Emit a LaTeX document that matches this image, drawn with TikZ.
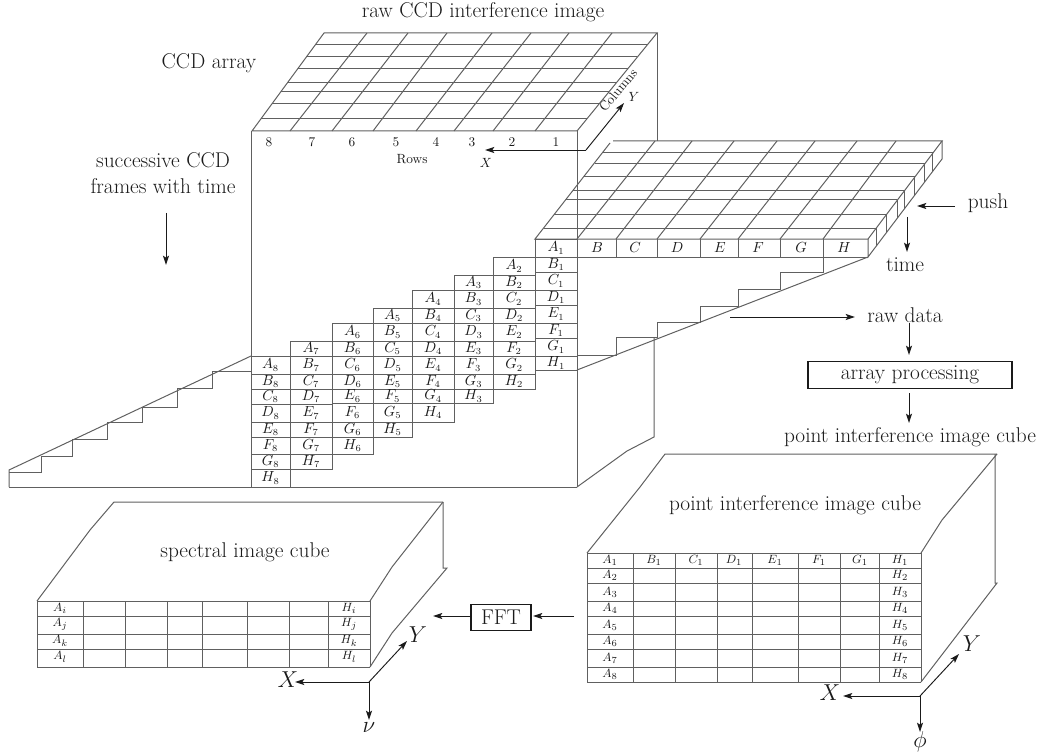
\documentclass[tikz,border=0pt]{standalone}
\usetikzlibrary{arrows.meta}
\definecolor{ink}{HTML}{606060}
\definecolor{axis}{HTML}{1A1A1A}
\tikzset{
  base/.style={x=0.75pt,y=-0.75pt},
  ln/.style={draw=ink,line width=0.75pt,line join=miter},
  arr/.style={draw=axis,line width=0.7pt,-{Stealth[length=7pt,width=4.5pt,inset=1.5pt]}},
  big/.style={inner sep=0pt,text=axis,font=\fontsize{16}{19}\selectfont,align=center},
  small/.style={inner sep=0pt,text=axis,font=\fontsize{10}{12}\selectfont},
  cellA/.style={inner sep=0pt,text=axis,font=\fontsize{10.5}{12}\selectfont},
  cellB/.style={inner sep=0pt,text=axis,font=\fontsize{9.5}{11}\selectfont},
  axl/.style={inner sep=0pt,text=axis,font=\fontsize{17}{19}\selectfont},
  boxn/.style={draw=axis,line width=0.9pt,inner sep=0pt,text=axis,font=\fontsize{16}{19}\selectfont},
}
% one stepped column of the interferogram: xa, xb, subscript, array of nine y values
\newcommand{\stairColumn}[4]{%
  \foreach \L [count=\n from 0] in {A,B,C,D,E,F,G,H}{%
    \pgfmathsetmacro\ya{#4[\n]}%
    \pgfmathsetmacro\yb{#4[\n+1]}%
    \pgfmathsetmacro\ym{(\ya+\yb)/2}%
    \pgfmathsetmacro\xm{(#1+#2)/2}%
    \draw[ln] (#1,\ya) rectangle (#2,\yb);
    \node[cellA] (s#3\L) at (\xm,\ym) {$\L_{#3}$};
  }%
}
\begin{document}
\begin{tikzpicture}[base]
\useasboundingbox (0,0) rectangle (1055,752);

% ---------- top CCD grid
\draw[ln] (252,131) -- (324,33) -- (657,33) -- (577,131) -- cycle;
\foreach \f/\b in {290/367,332/408,373/447,416/492,454/531,493/569,535/612}
  \draw[ln] (\f,131) -- (\b,33);
\foreach \y in {45,57,69,83,92,104,119}{
  \pgfmathsetmacro\xl{252+(131-\y)*72/98}
  \pgfmathsetmacro\xr{577+(131-\y)*80/98}
  \draw[ln] (\xl,\y) -- (\xr,\y);
}
% box of the main panel
\draw[ln] (251,131) -- (251,487);
\draw[ln] (577,131) -- (577,487);
\draw[ln] (657,33) -- (657,141);
\draw[ln] (9,487) -- (577,487);
\draw[ln] (577,487) -- (627,451) -- (654,437) -- (654,338);

% ---------- time grid
\draw[ln] (610,143) -- (535,239) -- (868,239) -- (942,141) -- (613,141);
\foreach \f/\b in {577/655,616/692,657/734,700/777,738/815,780/857,823/896}
  \draw[ln] (\f,239) -- (\b,141);
\foreach \y in {153,164,177,191,200,215,228}{
  \pgfmathsetmacro\xl{535+(239-\y)*78/98}
  \pgfmathsetmacro\xr{868+(239-\y)*74/98}
  \draw[ln] (\xl,\y) -- (\xr,\y);
}
% thickness on the right of the time grid
\draw[ln] (868,239) -- (868,257) -- (942,159) -- (942,141);
\foreach \y in {228,215,200,191,177,164,153}{
  \pgfmathsetmacro\xr{868+(239-\y)*74/98}
  \pgfmathsetmacro\yy{\y+18}
  \draw[ln] (\xr,\y) -- (\xr,\yy);
}
% front row B..H
\draw[ln] (535,257) -- (868,257);
\foreach \x in {616,657,700,738,780,823}
  \draw[ln] (\x,239) -- (\x,257);
\foreach \L/\x in {B/597,C/635,D/677,E/720,F/758,G/801,H/844}
  \node[cellA] (r\L) at (\x,248) {$\L$};

% right staircase
\draw[ln] (868,257) -- (577,370);
\draw[ln] (823,257) -- (823,272) -- (780,272) -- (780,289) -- (738,289) -- (738,306) -- (700,306) -- (700,322) -- (657,322) -- (657,337) -- (616,337) -- (616,355) -- (577,355);
% left staircase
\draw[ln] (251,356) -- (9,470) -- (9,487);
\draw[ln] (9,472) -- (41,472) -- (41,456) -- (72,456) -- (72,439) -- (107,439) -- (107,422) -- (142,422) -- (142,407) -- (177,407) -- (177,388) -- (212,388) -- (212,371) -- (251,371);

% ---------- stepped table
\stairColumn{535}{577}{1}{{239,257,272,290,305,323,338,356,370}}
\stairColumn{493}{535}{2}{{257,275,290,308,323,341,356,374,389}}
\stairColumn{454}{493}{3}{{275,290,308,323,341,356,374,389,403}}
\stairColumn{412}{454}{4}{{290,308,323,341,356,374,389,403,422}}
\stairColumn{373}{412}{5}{{308,323,341,356,374,389,403,422,437}}
\stairColumn{332}{373}{6}{{323,341,356,374,389,403,422,437,454}}
\stairColumn{290}{332}{7}{{341,356,374,389,404,422,437,454,469}}
\stairColumn{251}{290}{8}{{356,374,389,404,422,437,454,469,487}}

% ---------- top labels
\node[big] (title) at (483,12) {raw CCD interference image};
\node[big] (ccd) at (209,63) {CCD array};
\node[big] (succ) at (163,173) {successive CCD\\frames with time};
\coordinate (sa) at (166,213); \coordinate (sb) at (166,265);
\draw[arr] (sa) -- (sb);
\foreach \d/\x in {8/269,7/312,6/352,5/396,4/436,3/472,2/512,1/556}
  \node[small] (row\d) at (\x,142) {\d};
\node[small] (rows) at (412,159) {Rows};
\node[small,rotate=50] (cols) at (618,90) {Columns};
\coordinate (o1) at (586,150);
\coordinate (o1x) at (485,150);
\coordinate (o1y) at (624,103);
\draw[arr] (o1) -- (o1x);
\draw[arr] (o1) -- (o1y);
\node[small] (lx1) at (486,163) {$X$};
\node[small] (ly1) at (634,97) {$Y$};

% ---------- right side flow
\node[big] (push) at (988,203) {push};
\coordinate (pa) at (955,206);
\coordinate (pb) at (917,206);
\draw[arr] (pa) -- (pb);
\coordinate (ta) at (907,217);
\node[big] (time) at (905,265) {time};
\draw[arr] (ta) -- (907,252);
\node[big] (raw) at (905,315) {raw data};
\coordinate (ra) at (730,317);
\coordinate (rb) at (855,317);
\draw[arr] (ra) -- (rb);
\node[boxn,minimum width=153pt,minimum height=20.5pt] (proc) at (910,375) {array processing};
\node[big] (pcube) at (910,437) {point interference image cube};
\coordinate (pc) at (909,323);
\coordinate (pd) at (909,355);
\coordinate (pe) at (909,393);
\coordinate (pf) at (909,423);
\draw[arr] (pc) -- (pd);
\draw[arr] (pe) -- (pf);

% ---------- lower right cube
\draw[ln] (587,553) -- (640,487) -- (665,454) -- (997,454);
\draw[ln] (921,553) -- (942,520) -- (997,454);
\draw[ln] (995,454) -- (995,583) -- (997,583) -- (921,682);
\foreach \y in {553,568,583,601,616,634,649,667,682}
  \draw[ln] (587,\y) -- (921,\y);
\foreach \x in {587,633,675,717,752,798,840,879,921}
  \draw[ln] (\x,553) -- (\x,682);
\foreach \L/\x in {A/610,B/654,C/696,D/734,E/775,F/819,G/860,H/900}
  \node[cellB] (p\L) at (\x,560) {$\L_{1}$};
\foreach \i/\y in {2/575,3/592,4/608,5/625,6/641,7/658,8/674}{
  \node[cellB] (pA\i) at (610,\y) {$A_{\i}$};
  \node[cellB] (pH\i) at (900,\y) {$H_{\i}$};
}
\node[big] (pc2) at (795,505) {point interference image cube};
\coordinate (o2) at (920,696);
\node[axl] (x2) at (830,693) {$X$};
\node[axl] (y2) at (972,644) {$Y$};
\node[axl] (phi) at (920,742) {$\phi$};
\draw[arr] (o2) -- (843,696);
\draw[arr] (o2) -- (959,654);
\draw[arr] (o2) -- (920,732);

% ---------- FFT
\node[boxn,minimum width=45pt,minimum height=20pt] (fft) at (501,617.5) {FFT};
\coordinate (fa) at (574,616);
\coordinate (fb) at (433,616);
\coordinate (fc) at (533,616);
\coordinate (fd) at (471,616);
\draw[arr] (fa) -- (fc);
\draw[arr] (fd) -- (fb);

% ---------- lower left cube
\draw[ln] (37,601) -- (90,530) -- (114,502) -- (443,502);
\draw[ln] (370,601) -- (392,567) -- (443,502);
\draw[ln] (443,502) -- (443,568) -- (447,568) -- (392,633) -- (370,667);
\foreach \y in {601,616,634,649,667}
  \draw[ln] (37,\y) -- (370,\y);
\foreach \x in {37,83,125,167,202,247,289,328,370}
  \draw[ln] (\x,601) -- (\x,667);
\foreach \i/\y in {i/608,j/624,k/641,l/657}{
  \node[cellB] (cA\i) at (60,\y) {$A_{\i}$};
  \node[cellB] (cH\i) at (349,\y) {$H_{\i}$};
}
\node[big] (spec) at (245,552) {spectral image cube};
\coordinate (o3) at (369,682);
\node[axl] (x3) at (288,680) {$X$};
\node[axl] (y3) at (418,635) {$Y$};
\node[axl] (nu) at (369,728) {$\nu$};
\draw[arr] (o3) -- (295,682);
\draw[arr] (o3) -- (407,641);
\draw[arr] (o3) -- (369,720);
\end{tikzpicture}
\end{document}
